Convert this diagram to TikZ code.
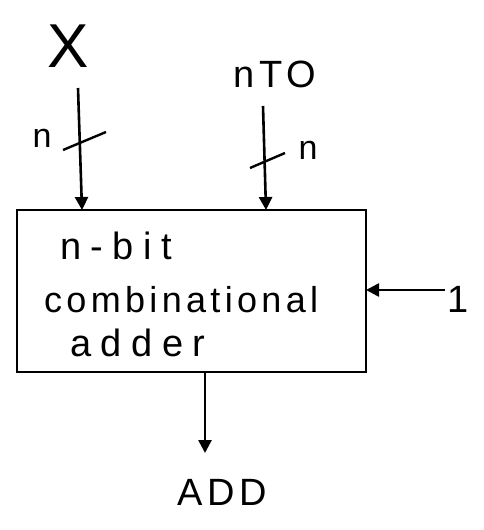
\documentclass[tikz,border=0pt]{standalone}
\usepackage{fontspec}
\setmainfont{Liberation Sans}
\newfontfamily\spaced[LetterSpace=12]{Liberation Sans}
\newfontfamily\wide[LetterSpace=25]{Liberation Sans}
\usetikzlibrary{arrows.meta}
\begin{document}
\begin{tikzpicture}[x=1pt,y=-1pt,
  wire/.style={line width=2.6pt,-{Triangle[length=13pt,width=13pt]}},
  tick/.style={line width=2.4pt},
  lbl/.style={inner sep=0pt,anchor=center},
  boxshape/.style={draw,line width=2.6pt,rectangle,minimum width=349pt,minimum height=162pt,inner sep=0pt}]
\useasboundingbox (0,0) rectangle (483,530);
% labels
\node[lbl,font=\fontsize{62}{62}\selectfont] (X) at (68,46) {X};
\node[lbl,font=\spaced\fontsize{38}{38}\selectfont] (nto) at (275,74) {nTO};
\node[lbl,font=\fontsize{38}{38}\selectfont] (one) at (458,299) {1};
\node[lbl,font=\spaced\fontsize{38}{38}\selectfont] (add) at (222,492) {ADD};
\node[lbl,font=\fontsize{34}{34}\selectfont] (n1) at (42,138) {n};
\node[lbl,font=\fontsize{34}{34}\selectfont] (n2) at (308,150) {n};
% box
\node[boxshape] (box) at (191.5,291) {};
\node[lbl,anchor=west,font=\wide\fontsize{38}{38}\selectfont] (t1) at (60,246) {n-bit};
\node[lbl,anchor=west,font=\spaced\fontsize{36}{36}\selectfont] (t2) at (44,300) {combinational};
\node[lbl,anchor=west,font=\wide\fontsize{38}{38}\selectfont] (t3) at (70,343) {adder};
% coordinates
\coordinate (xs) at (78,88);
\coordinate (xe) at (82,210);
\coordinate (ns) at (263,106);
\coordinate (ne) at (266,210);
\coordinate (os) at (445,290);
\coordinate (oe) at (366,290);
\coordinate (bs) at (205,372);
\coordinate (be) at (205,453);
\coordinate (t1a) at (63,150);
\coordinate (t1b) at (106,132);
\coordinate (t2a) at (250,168);
\coordinate (t2b) at (285,153);
% wires
\draw[wire] (xs) -- (xe);
\draw[wire] (ns) -- (ne);
\draw[wire] (os) -- (oe);
\draw[wire] (bs) -- (be);
\draw[tick] (t1a) -- (t1b);
\draw[tick] (t2a) -- (t2b);
\end{tikzpicture}
\end{document}
